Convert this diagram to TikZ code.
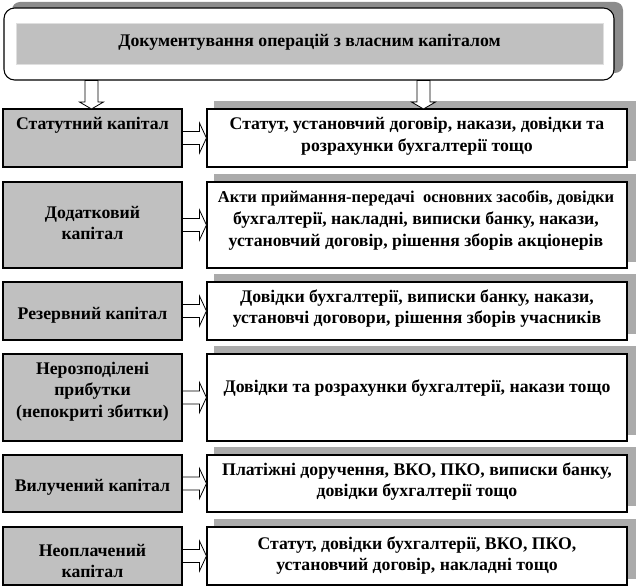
\documentclass[tikz,border=0pt]{standalone}
\usepackage{fontspec}
\setmainfont{Liberation Serif}
\usetikzlibrary{calc,fit,backgrounds}
\definecolor{boxgray}{HTML}{C0C0C0}
\definecolor{shadegray}{HTML}{ABABAB}
\definecolor{topshade}{HTML}{8C8C8C}
\newcommand\rarrowcon[2]{%
  \draw[barrow] let \p1=(#1.east), \p2=(#2.west) in
    (\x1,\y1+4.875pt) -- (\x2-5.25pt,\y1+4.875pt) -- (\x2-5.25pt,\y1+11.25pt) -- (\x2,\y1)
    -- (\x2-5.25pt,\y1-11.25pt) -- (\x2-5.25pt,\y1-4.875pt) -- (\x1,\y1-4.875pt) -- cycle;}
\newcommand\darrowcon[2]{%
  \draw[barrow] let \p1=(#1), \p2=(#2) in
    (\x1-4.875pt,\y1) -- (\x1-4.875pt,\y2+5.25pt) -- (\x1-9pt,\y2+5.25pt) -- (\x1,\y2)
    -- (\x1+9pt,\y2+5.25pt) -- (\x1+4.875pt,\y2+5.25pt) -- (\x1+4.875pt,\y1) -- cycle;}
\begin{document}
\begin{tikzpicture}[x=0.75pt,y=-0.75pt,
  lbox/.style={draw=black, fill=boxgray, line width=0.8pt, inner sep=0pt},
  rbox/.style={draw=black, fill=white, line width=0.8pt, inner sep=0pt},
  txt/.style={font=\bfseries\fontsize{13.3}{16.2}\selectfont, align=center, inner sep=0pt},
  shade/.style={fill=shadegray, draw=none},
  barrow/.style={draw=black, fill=white, line width=0.6pt, line join=miter}
]
\useasboundingbox (0,0) rectangle (637,588);

% title block
\fill[topshade, rounded corners=6pt] (12,2) rectangle (623,73);
\node[draw=black, fill=white, line width=0.8pt, rounded corners=8pt, inner sep=0pt, fit={(4,8) (614,80)}] (top) {};
\node[fill=boxgray, draw=gray!25, inner sep=0pt, fit={(16,23) (603,64)}] (titlebar) {};
\node[txt] (title) at (309.5,42) {Документування операцій з власним капіталом};

% left boxes
\node[lbox, fit={(3,109) (182,167)}] (l1) {};
\node[lbox, fit={(3,182) (182,268)}] (l2) {};
\node[lbox, fit={(3,282) (182,340)}] (l3) {};
\node[lbox, fit={(3,354) (182,441)}] (l4) {};
\node[lbox, fit={(3,455) (182,512)}] (l5) {};
\node[lbox, fit={(3,527) (182,585)}] (l6) {};

% right boxes
\node[rbox, fit={(207,109) (627,167)}] (r1) {};
\node[rbox, fit={(207,182) (627,268)}] (r2) {};
\node[rbox, fit={(207,282) (627,340)}] (r3) {};
\node[rbox, fit={(207,354) (627,441)}] (r4) {};
\node[rbox, fit={(207,455) (627,512)}] (r5) {};
\node[rbox, fit={(207,527) (627,585)}] (r6) {};

\begin{scope}[on background layer]
  \foreach \r in {r1,r2,r3,r4,r5,r6}
    \fill[shade] ($(\r.north west)+(8,-7)$) rectangle ($(\r.south east)+(8,-7)$);
\end{scope}

% texts left
\node[txt] (lt1) at (92.5,125) {Статутний капітал};
\node[txt] (lt2) at (92.5,223) {Додатковий\\капітал};
\node[txt] (lt3) at (92.5,315) {Резервний капітал};
\node[txt] (lt4) at (92.5,391.5) {Нерозподілені\\прибутки\\(непокриті збитки)};
\node[txt] (lt5) at (92.5,487) {Вилучений капітал};
\node[txt] (lt6) at (92.5,561) {Неоплачений\\капітал};

% texts right
\node[txt] (rt1) at (417,136) {Статут, установчий договір, накази, довідки та\\розрахунки бухгалтерії тощо};
\node[txt] (rt2) at (416,220.5) {{\fontsize{12.4}{16.2}\selectfont Акти приймання-передачі\ \ основних засобів, довідки}\\бухгалтерії, накладні, виписки банку, накази,\\установчий договір, рішення зборів акціонерів};
\node[txt] (rt3) at (417,308.5) {Довідки бухгалтерії, виписки банку, накази,\\установчі договори, рішення зборів учасників};
\node[txt] (rt4) at (417,388) {Довідки та розрахунки бухгалтерії, накази тощо};
\node[txt] (rt5) at (417,481.5) {Платіжні\ доручення, ВКО, ПКО, виписки банку,\\довідки бухгалтерії тощо};
\node[txt] (rt6) at (417,555.5) {Статут, довідки бухгалтерії, ВКО, ПКО,\\установчий договір, накладні тощо};

% connectors
\rarrowcon{l1}{r1}
\rarrowcon{l2}{r2}
\rarrowcon{l3}{r3}
\rarrowcon{l4}{r4}
\rarrowcon{l5}{r5}
\rarrowcon{l6}{r6}

\coordinate (ds1) at (top.south -| 91.5,0);
\coordinate (de1) at (91.5,109);
\coordinate (ds2) at (top.south -| 423.5,0);
\coordinate (de2) at (423.5,109);
\darrowcon{ds1}{de1}
\darrowcon{ds2}{de2}
\end{tikzpicture}
\end{document}
